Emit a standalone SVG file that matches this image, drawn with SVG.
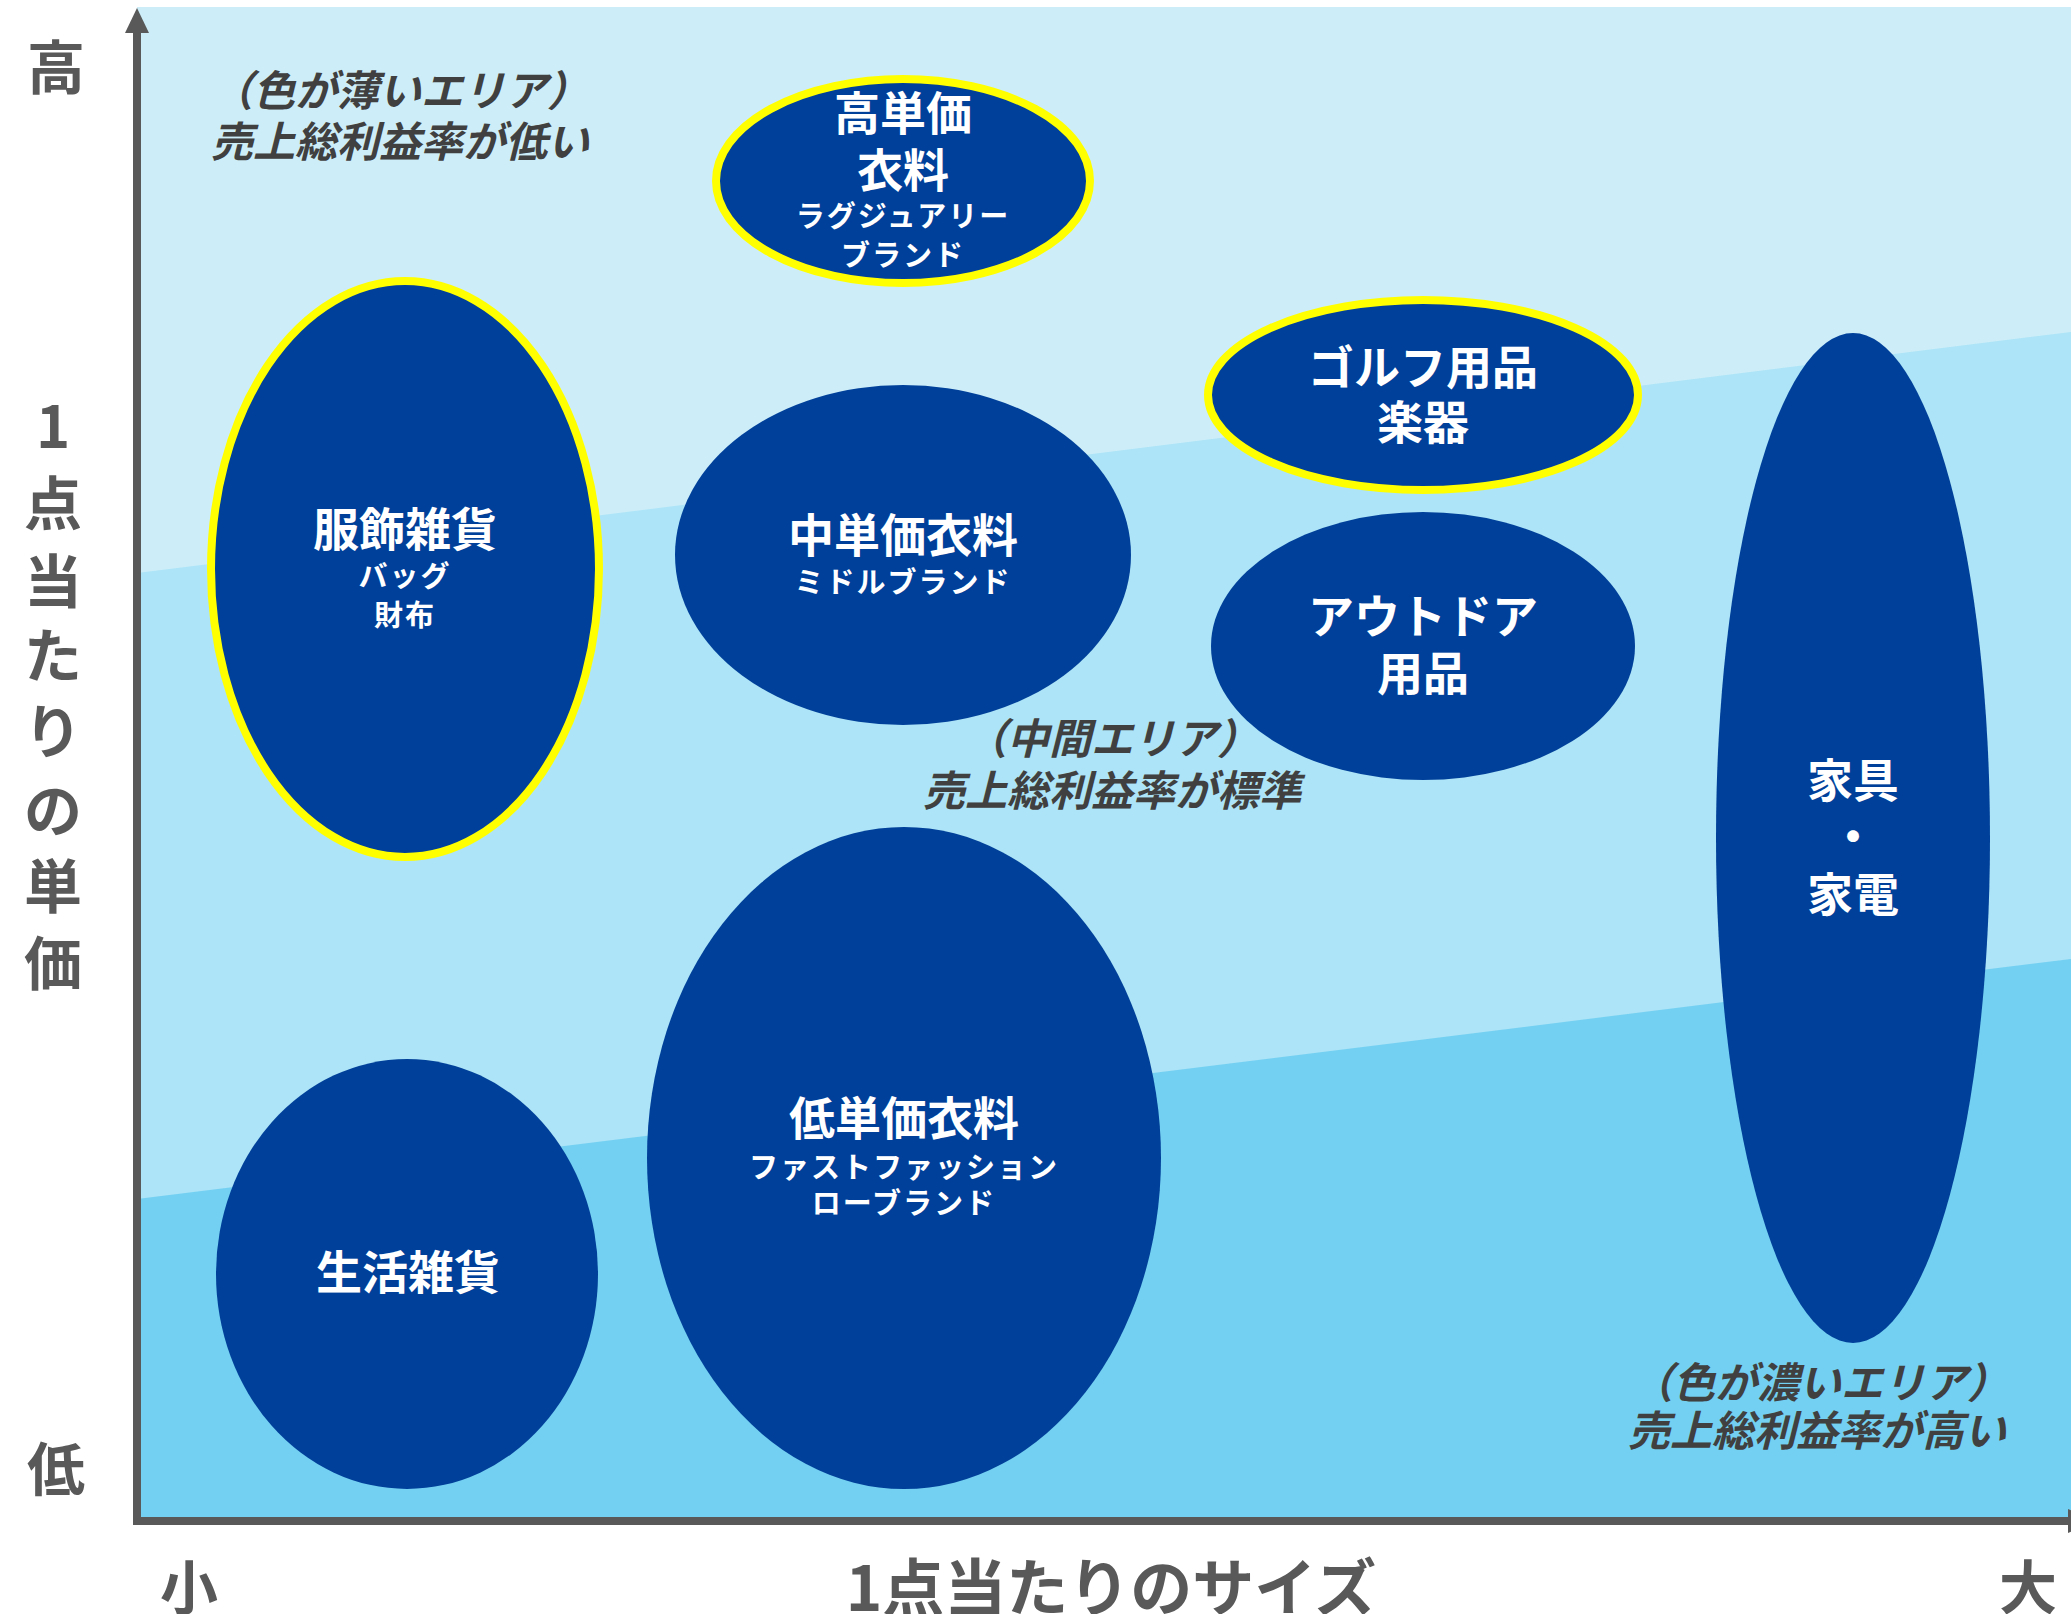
<svg xmlns="http://www.w3.org/2000/svg" width="2071" height="1614" viewBox="0 0 2071 1614">
<style>
  text { font-family: "Noto Sans CJK JP", "Noto Sans", sans-serif; font-weight: 700; text-anchor: middle; dominant-baseline: central; }
  .node { fill: #00409a; }
  .hl { stroke: #ffff00; stroke-width: 8; }
  .big { fill: #ffffff; font-size: 46px; }
  .small { fill: #ffffff; font-size: 29px; letter-spacing: 2px; }
  .note { fill: #404040; font-size: 42px; font-style: italic; }
  .axislabel { fill: #595959; font-size: 58px; }
  .axistitle { fill: #595959; font-size: 62px; }
  .axis { stroke: #595959; stroke-width: 8; fill: none; }
</style>
<rect width="2071" height="1614" fill="#ffffff"/>
<g id="background">
  <rect x="137" y="7" width="1934" height="1514" fill="#cdeef9"/>
  <polygon points="137,573 2071,332 2071,1521 137,1521" fill="#ade4f7"/>
  <polygon points="137,1199 2071,959 2071,1521 137,1521" fill="#74d0f2"/>
</g>
<g id="connectors">
  <line class="axis" x1="137" y1="28" x2="137" y2="1521"/>
  <polygon points="137,8 125,33 149,33" fill="#595959"/>
  <line class="axis" x1="133" y1="1521" x2="2069" y2="1521"/>
  <polygon points="2068,1509 2095,1521 2068,1533" fill="#595959"/>
</g>
<g id="axis-labels">
  <text class="axislabel" x="56" y="64">高</text>
  <text class="axislabel" x="56" y="1466">低</text>
  <text class="axislabel" x="53 53 53 53 53 53 53 53" y="423 500 578 652 728 807 883 960">1点当たりの単価</text>
  <text class="axislabel" x="189" y="1584">小</text>
  <text class="axistitle" x="1111" y="1584">1点当たりのサイズ</text>
  <text class="axislabel" x="2028" y="1584">大</text>
</g>
<g id="note-low">
  <text class="note" x="400" y="87">（色が薄いエリア）</text>
  <text class="note" x="400" y="138">売上総利益率が低い</text>
</g>
<g id="note-mid">
  <text class="note" x="1112" y="735">（中間エリア）</text>
  <text class="note" x="1112" y="787">売上総利益率が標準</text>
</g>
<g id="note-high">
  <text class="note" x="1820" y="1379">（色が濃いエリア）</text>
  <text class="note" x="1817" y="1427">売上総利益率が高い</text>
</g>
<g id="node-luxury">
  <ellipse class="node hl" cx="903" cy="181" rx="187" ry="102"/>
  <text class="big" x="903" y="110">高単価</text>
  <text class="big" x="903" y="167">衣料</text>
  <text class="small" x="903" y="214">ラグジュアリー</text>
  <text class="small" x="903" y="253">ブランド</text>
</g>
<g id="node-accessories">
  <ellipse class="node hl" cx="405" cy="569" rx="194" ry="288"/>
  <text class="big" x="405" y="526">服飾雑貨</text>
  <text class="small" x="405" y="574">バッグ</text>
  <text class="small" x="405" y="613">財布</text>
</g>
<g id="node-middle">
  <ellipse class="node" cx="903" cy="555" rx="228" ry="170"/>
  <text class="big" x="903" y="532">中単価衣料</text>
  <text class="small" x="903" y="580">ミドルブランド</text>
</g>
<g id="node-golf">
  <ellipse class="node hl" cx="1423" cy="395" rx="215" ry="95"/>
  <text class="big" x="1423" y="364">ゴルフ用品</text>
  <text class="big" x="1423" y="419">楽器</text>
</g>
<g id="node-outdoor">
  <ellipse class="node" cx="1423" cy="646" rx="212" ry="134"/>
  <text class="big" x="1423" y="613">アウトドア</text>
  <text class="big" x="1423" y="670">用品</text>
</g>
<g id="node-furniture">
  <ellipse class="node" cx="1853" cy="838" rx="137" ry="505"/>
  <text class="big" x="1853" y="777">家具</text>
  <text class="big" x="1853" y="833">・</text>
  <text class="big" x="1853" y="891">家電</text>
</g>
<g id="node-household">
  <ellipse class="node" cx="407" cy="1274" rx="191" ry="215"/>
  <text class="big" x="408" y="1269">生活雑貨</text>
</g>
<g id="node-low">
  <ellipse class="node" cx="904" cy="1158" rx="257" ry="331"/>
  <text class="big" x="904" y="1115">低単価衣料</text>
  <text class="small" x="904" y="1165">ファストファッション</text>
  <text class="small" x="904" y="1201">ローブランド</text>
</g>
</svg>
